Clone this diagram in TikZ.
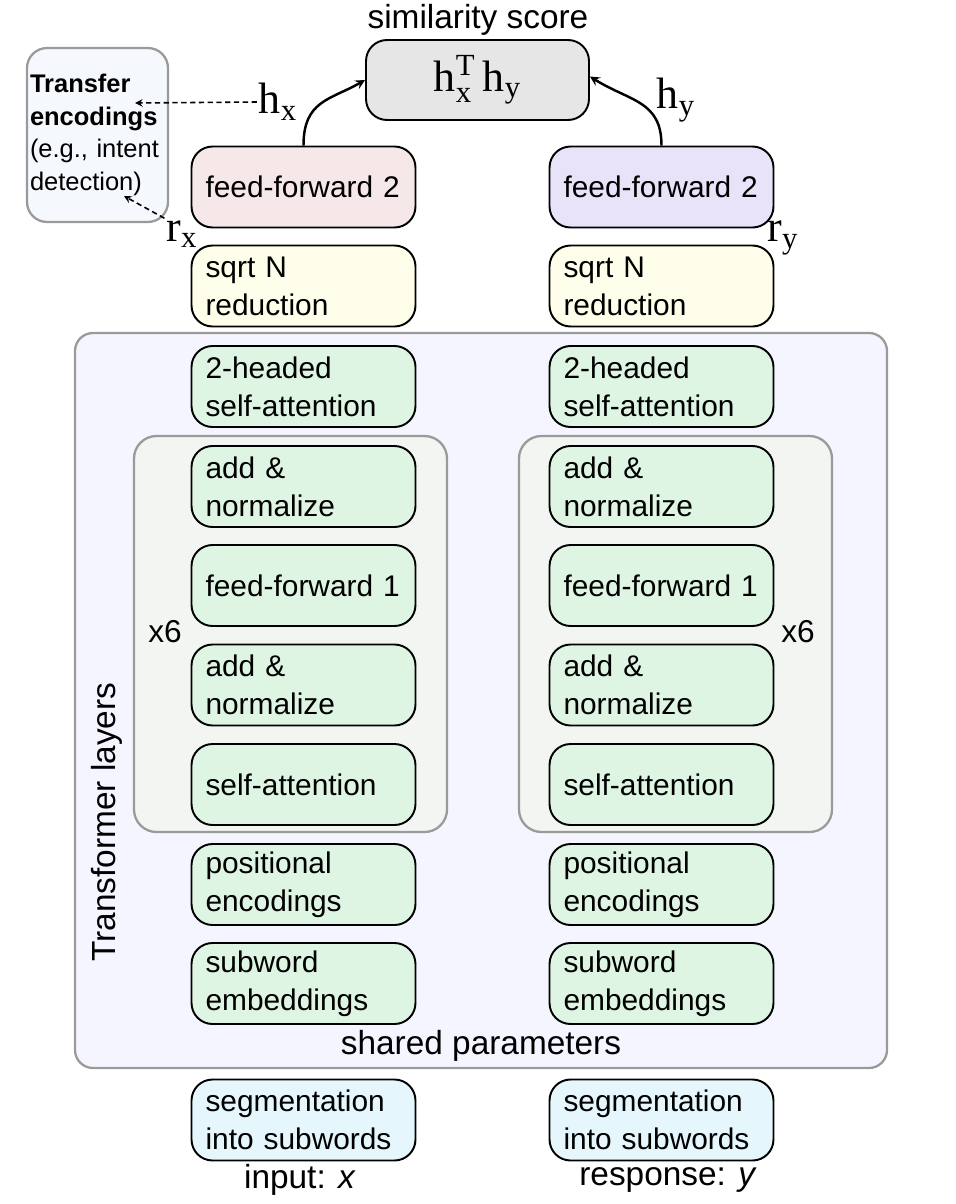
\documentclass[tikz,border=0pt]{standalone}
\usepackage{fontspec}
\setmainfont{Liberation Sans}
\setmathrm{Liberation Serif}
\usetikzlibrary{arrows, positioning}

\definecolor{simgray}{HTML}{E6E6E6}
\definecolor{ffpink}{HTML}{F6E8E8}
\definecolor{fflilac}{HTML}{E9E3FA}
\definecolor{sqrtyellow}{HTML}{FEFEEA}
\definecolor{layergreen}{HTML}{DFF5E3}
\definecolor{sharedbg}{HTML}{F5F5FF}
\definecolor{repbg}{HTML}{F3F5F3}
\definecolor{segblue}{HTML}{E5F6FD}
\definecolor{transferbg}{HTML}{F5F9FD}
\definecolor{framegray}{HTML}{9A9A9A}

\newcommand{\boxfont}{\fontsize{17}{21.6}\selectfont}
\newcommand{\labelfont}{\fontsize{19}{23}\selectfont}
\newcommand{\vecfont}{\fontsize{25}{30}\selectfont}

\begin{document}
\begin{tikzpicture}[x=0.02cm, y=-0.02cm,
    box/.style={draw, line width=1.1pt, rounded corners=0.42cm, minimum width=4.48cm,
        minimum height=1.62cm, text width=3.92cm, inner xsep=0.28cm, align=left, font=\boxfont},
    frame/.style={draw=framegray, line width=1.3pt},
    biglabel/.style={font=\labelfont, inner sep=1pt},
    veclabel/.style={font=\vecfont, inner sep=1pt},
    solidarrow/.style={-stealth, line width=1.4pt},
    dasharrow/.style={-stealth, densely dashed, line width=0.9pt}]
    \useasboundingbox (0,0) rectangle (956,1204);

    % shared parameters
    \draw[frame, fill=sharedbg, rounded corners=0.36cm] (75,333) rectangle (887,1068);
    \node[biglabel] (shared) at (481,1046) {shared parameters};
    \node[biglabel, rotate=90] (layers) at (107,822) {Transformer layers};

    % repeated blocks
    \draw[frame, fill=repbg, rounded corners=0.45cm] (134,436) rectangle (447,832);
    \draw[frame, fill=repbg, rounded corners=0.45cm] (519,436) rectangle (832,832);
    \node[font=\fontsize{18}{22}\selectfont] (repl) at (165,632) {x6};
    \node[font=\fontsize{18}{22}\selectfont] (repr) at (798,632) {x6};

    % the two towers
    \foreach \cx/\side in {303.5/l, 661.5/r} {
        \node[box, fill=sqrtyellow] (sqrt\side) at (\cx,286) {sqrt N\\reduction};
        \node[box, fill=layergreen] (att\side) at (\cx,386.5) {2-headed\\self-attention};
        \node[box, fill=layergreen] (norma\side) at (\cx,486.5) {add \&\\normalize};
        \node[box, fill=layergreen] (ffone\side) at (\cx,585.5) {feed-forward 1};
        \node[box, fill=layergreen] (normb\side) at (\cx,685) {add \&\\normalize};
        \node[box, fill=layergreen] (selfatt\side) at (\cx,784.5) {self-attention};
        \node[box, fill=layergreen] (pos\side) at (\cx,884.5) {positional\\encodings};
        \node[box, fill=layergreen] (emb\side) at (\cx,983.5) {subword\\embeddings};
        \node[box, fill=segblue] (seg\side) at (\cx,1120) {segmentation\\into subwords};
    }
    \node[box, fill=ffpink] (ffl) at (303.5,187) {feed-forward 2};
    \node[box, fill=fflilac] (ffr) at (661.5,187) {feed-forward 2};

    % inputs
    \node[biglabel] (inx) at (300,1180) {input: \textit{x}};
    \node[biglabel] (iny) at (668,1180) {response: \textit{y}};

    % similarity score
    \node[draw, line width=1.1pt, rounded corners=0.42cm, fill=simgray, minimum width=4.46cm,
        minimum height=1.6cm, font=\vecfont] (sim) at (477.5,80)
        {$\mathrm{h}_\mathrm{x}^\mathrm{T}\,\mathrm{h}_\mathrm{y}$};
    \node[biglabel] (simlabel) at (478,20) {similarity score};

    % encodings
    \node[veclabel] (hx) at (278,102) {$\mathrm{h}_\mathrm{x}$};
    \node[veclabel] (hy) at (676,100) {$\mathrm{h}_\mathrm{y}$};
    \node[veclabel] (rx) at (182,234) {$\mathrm{r}_\mathrm{x}$};
    \node[veclabel] (ry) at (783,238) {$\mathrm{r}_\mathrm{y}$};

    % transfer box
    \node[draw=framegray, line width=1.3pt, rounded corners=0.4cm, fill=transferbg,
        minimum width=2.82cm, minimum height=3.48cm, text width=2.7cm, inner xsep=0.06cm,
        align=left, font=\fontsize{14.5}{18.5}\selectfont] (transfer) at (97.5,135)
        {\textbf{Transfer}\\\textbf{encodings}\\(e.g., intent\\detection)};
    \coordinate (transfertip) at (135,103);
    \coordinate (detecttip) at (124,196);

    % arrows
    \draw[solidarrow] (ffl.north) .. controls +(0,-45) and +(-35,20) .. (sim.west);
    \draw[solidarrow] (ffr.north) .. controls +(0,-45) and +(40,25) .. ([yshift=2pt]sim.east);
    \draw[dasharrow] (hx.west) -- (transfertip);
    \draw[dasharrow] (rx.north west) -- (detecttip);
\end{tikzpicture}
\end{document}
